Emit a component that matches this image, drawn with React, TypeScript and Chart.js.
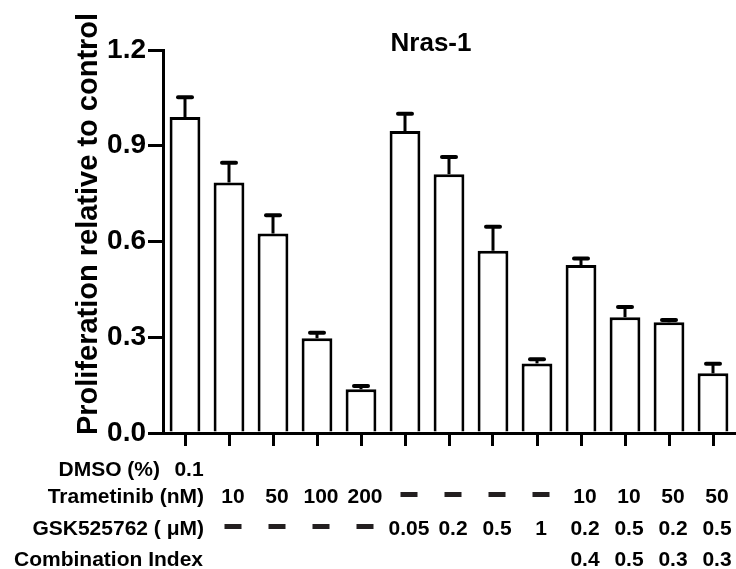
import React, { useEffect, useRef } from "react";
import { Chart, registerables } from "chart.js";

Chart.register(...registerables);

const categories = [
  "DMSO", "T10", "T50", "T100", "T200",
  "G0.05", "G0.2", "G0.5", "G1",
  "T10+G0.2", "T10+G0.5", "T50+G0.2", "T50+G0.5",
];
const values = [0.99, 0.785, 0.625, 0.297, 0.137, 0.946, 0.811, 0.571, 0.218, 0.526, 0.363, 0.347, 0.187];
const errors = [0.062, 0.062, 0.057, 0.017, 0.01, 0.054, 0.054, 0.075, 0.013, 0.021, 0.032, 0.007, 0.03];
const yTicks = [0, 0.3, 0.6, 0.9, 1.2];

const rowLabels = ["DMSO (%)", "Trametinib (nM)", "GSK525762 ( μM)", "Combination Index"];
const dmsoRow = ["0.1", "", "", "", "", "", "", "", "", "", "", "", ""];
const trametinibRow = ["", "10", "50", "100", "200", "-", "-", "-", "-", "10", "10", "50", "50"];
const gskRow = ["", "-", "-", "-", "-", "0.05", "0.2", "0.5", "1", "0.2", "0.5", "0.2", "0.5"];
const ciRow = ["", "", "", "", "", "", "", "", "", "0.4", "0.5", "0.3", "0.3"];

const chartTitle = "Nras-1";
const yTitle = "Proliferation relative to control";

const FONT = '"Liberation Sans", Arial, Helvetica, sans-serif';

const overlay = {
  id: "overlay",
  afterDatasetsDraw(chart: any) {
    const { ctx, scales } = chart;
    const x = scales.x;
    const y = scales.y;
    ctx.save();
    ctx.strokeStyle = "#000";
    values.forEach((v, i) => {
      const px = x.getPixelForValue(i);
      const top = y.getPixelForValue(v);
      const cap = y.getPixelForValue(v + errors[i]);
      ctx.lineWidth = 3;
      ctx.lineCap = "butt";
      ctx.beginPath();
      ctx.moveTo(px, top);
      ctx.lineTo(px, cap);
      ctx.stroke();
      ctx.lineWidth = 4;
      ctx.lineCap = "round";
      ctx.beginPath();
      ctx.moveTo(px - 7, cap);
      ctx.lineTo(px + 7, cap);
      ctx.stroke();
    });
    ctx.restore();
  },
  afterDraw(chart: any) {
    const { ctx, scales } = chart;
    const x = scales.x;
    const axisY = chart.chartArea.bottom;
    ctx.save();
    ctx.fillStyle = "#000";
    // title
    ctx.font = `bold 26px ${FONT}`;
    ctx.textAlign = "center";
    ctx.textBaseline = "middle";
    ctx.fillText(chartTitle, 431, 44);
    // y title
    ctx.save();
    ctx.translate(89, 224);
    ctx.rotate(-Math.PI / 2);
    ctx.font = `bold 29px ${FONT}`;
    ctx.fillText(yTitle, 0, 0);
    ctx.restore();

    // table
    const rows = [dmsoRow, trametinibRow, gskRow, ciRow];
    const rowOffsets = [37, 64, 96, 127];
    const labelRight = [160, 204, 204, 203];
    ctx.font = `bold 21px ${FONT}`;
    rows.forEach((row, r) => {
      const ry = axisY + rowOffsets[r];
      ctx.textAlign = "right";
      ctx.fillStyle = "#000";
      ctx.fillText(rowLabels[r], labelRight[r], ry);
      ctx.textAlign = "center";
      row.forEach((cell, i) => {
        if (!cell) return;
        const cx = x.getPixelForValue(i) + 4;
        if (cell === "-") {
          ctx.fillStyle = "#231f20";
          ctx.fillRect(cx - 8.5, ry - 5, 17, 5);
          ctx.fillStyle = "#000";
        } else {
          ctx.fillText(cell, cx, ry);
        }
      });
    });
    ctx.restore();
  },
};

export default function App() {
  const ref = useRef<HTMLCanvasElement | null>(null);
  useEffect(() => {
    if (!ref.current) return;
    const chart = new Chart(ref.current, {
      type: "bar",
      data: {
        labels: categories,
        datasets: [
          {
            data: values,
            backgroundColor: "#ffffff",
            borderColor: "#000000",
            borderWidth: 3,
            barPercentage: 0.7,
            categoryPercentage: 1,
          },
        ],
      },
      options: {
        responsive: false,
        animation: false,
        devicePixelRatio: 1,
        layout: { padding: { top: 50, left: 0, right: 1, bottom: 0 } },
        plugins: {
          legend: { display: false },
          title: { display: false },
          tooltip: { enabled: false },
        },
        scales: {
          x: {
            offset: true,
            grid: {
              offset: false,
              drawOnChartArea: false,
              drawTicks: true,
              tickLength: 13,
              color: "#000",
              lineWidth: 3,
            },
            border: { display: true, color: "#000", width: 3 },
            ticks: { display: false },
            afterFit: (s: any) => {
              s.height = 136;
            },
          },
          y: {
            min: 0,
            max: 1.2,
            afterBuildTicks: (s: any) => {
              s.ticks = yTicks.map((v) => ({ value: v }));
            },
            grid: {
              drawOnChartArea: false,
              drawTicks: true,
              tickLength: 15,
              color: "#000",
              lineWidth: 3,
            },
            border: { display: true, color: "#000", width: 3 },
            ticks: {
              color: "#000",
              padding: 2,
              font: { family: FONT, size: 28, weight: "bold" },
              callback: (v: any) => Number(v).toFixed(1),
            },
            afterFit: (s: any) => {
              s.width = 163;
            },
          },
        },
      },
      plugins: [overlay],
    });
    return () => chart.destroy();
  }, []);
  return (
    <div style={{ position: "fixed", left: 0, top: 0, width: 736, height: 569, background: "#fff" }}>
      <canvas ref={ref} width={736} height={569} />
    </div>
  );
}
